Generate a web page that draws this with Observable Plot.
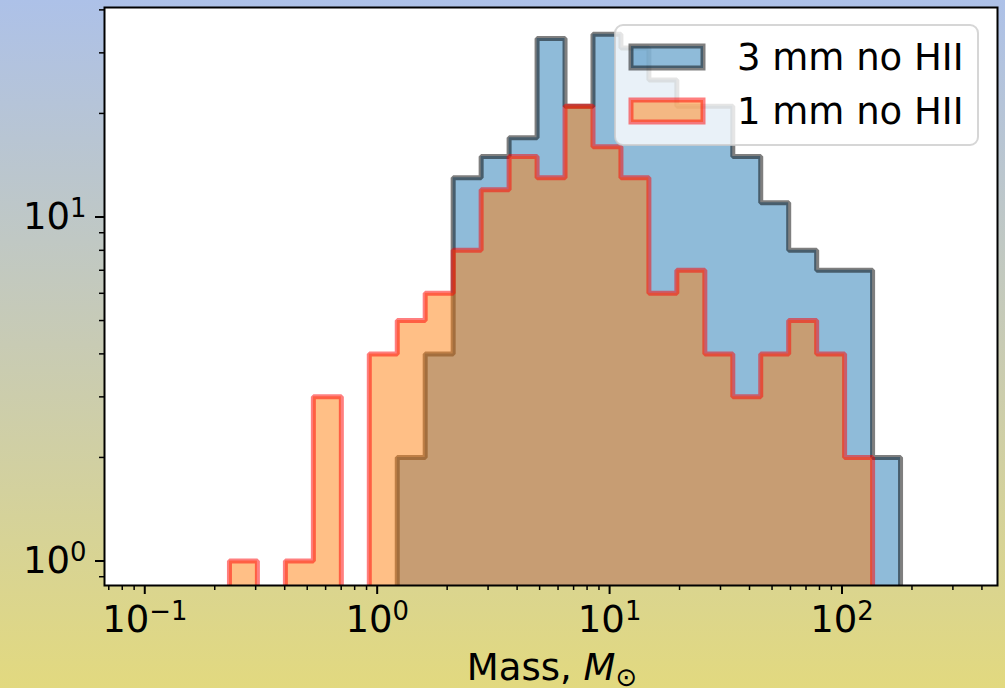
<!DOCTYPE html>
<html><head><meta charset="utf-8">
<script src="https://cdn.jsdelivr.net/npm/d3@7"></script>
<script src="https://cdn.jsdelivr.net/npm/@observablehq/plot@0.6"></script>
<style>
html,body{margin:0;padding:0;background:#fff;}
#fig{position:relative;width:1005px;height:688px;background:linear-gradient(to bottom,#adc1e8 0%,#c8cbb4 50%,#e2d97f 100%);overflow:hidden;}
#fig svg{display:block;}
</style></head><body><div id="fig"></div>
<script>
// Histogram bin edges (solar masses), shared by both series
const binEdges = [0.2314, 0.3052, 0.4028, 0.5314, 0.7011, 0.9248, 1.220, 1.609, 2.123, 2.801,
  3.695, 4.875, 6.431, 8.483, 11.19, 14.76, 19.47, 25.69, 33.89, 44.70, 58.97, 77.80, 102.6, 135.4, 178.6];
// Counts per bin
const counts3mm = [0, 0, 0, 0, 0, 0, 2, 4, 13, 15, 17, 33, 21, 34, 31, 25, 21, 21, 15, 11, 8, 7, 7, 2];
const counts1mm = [1, 0, 1, 3, 0, 4, 5, 6, 8, 12, 15, 13, 21, 16, 13, 6, 7, 4, 3, 4, 5, 4, 2, 0];
const seriesNames = ["3 mm no HII", "1 mm no HII"];
const xMajorTicks = [0.1, 1, 10, 100];
const yMajorTicks = [1, 10];
const xLabelText = "Mass, ";

const FLOOR = 1e-3;
const xDomain = [0.0671, 466.7];
const yDomain = [0.8487, 40.64];

function stepPoints(counts) {
  const pts = [{x: binEdges[0], y: FLOOR}];
  counts.forEach((c, i) => pts.push({x: binEdges[i], y: c > 0 ? c : FLOOR}));
  pts.push({x: binEdges[counts.length], y: FLOOR});
  return pts;
}
const s3 = stepPoints(counts3mm);
const s1 = stepPoints(counts1mm);

function minorTicks(domain) {
  const out = [];
  for (let e = -3; e <= 3; e++) {
    const d = Math.pow(10, e);
    for (let k = 2; k <= 9; k++) {
      const v = d * k;
      if (v >= domain[0] && v <= domain[1]) out.push(v);
    }
  }
  return out;
}
const fmt = d => { const e = Math.round(Math.log10(d)); return "10^" + (e < 0 ? "\u2212" + (-e) : e); };

const plot = Plot.plot({
  width: 1005, height: 688,
  marginLeft: 104, marginRight: 8, marginTop: 7, marginBottom: 103,
  style: {background: "transparent", fontFamily: "DejaVu Sans", fontSize: "37px", color: "black"},
  x: {type: "log", domain: xDomain, label: null},
  y: {type: "log", domain: yDomain, label: null},
  marks: [
    Plot.frame({fill: "white", stroke: null}),
    Plot.areaY(s3, {x: "x", y1: FLOOR, y2: "y", curve: "step-after", fill: "#1f77b4", fillOpacity: 0.5, clip: true}),
    Plot.line(s3, {x: "x", y: "y", curve: "step-after", stroke: "black", strokeOpacity: 0.5, strokeWidth: 5, strokeLinejoin: "miter", clip: true}),
    Plot.areaY(s1, {x: "x", y1: FLOOR, y2: "y", curve: "step-after", fill: "#ff7f0e", fillOpacity: 0.5, clip: true}),
    Plot.line(s1, {x: "x", y: "y", curve: "step-after", stroke: "red", strokeOpacity: 0.5, strokeWidth: 5, strokeLinejoin: "miter", clip: true}),
    Plot.axisX(minorTicks(xDomain), {tickSize: 5, strokeWidth: 1.5, tickFormat: () => "", label: null}),
    Plot.axisX(xMajorTicks, {tickSize: 9, tickPadding: 11, strokeWidth: 2, tickFormat: fmt, label: null}),
    Plot.axisY(minorTicks(yDomain), {tickSize: 5, strokeWidth: 1.5, tickFormat: () => "", label: null}),
    Plot.axisY(yMajorTicks, {tickSize: 9, tickPadding: 9, strokeWidth: 2, tickFormat: fmt, label: null}),
    Plot.frame({stroke: "black", strokeWidth: 2})
  ]
});
document.getElementById("fig").appendChild(plot);

const svg = d3.select(plot);
svg.selectAll("text").each(function () {
  const t = this.textContent;
  if (t.startsWith("10^")) {
    const el = d3.select(this);
    el.text(null);
    el.append("tspan").text("10");
    el.append("tspan").attr("dy", "-0.45em").attr("font-size", "0.7em").text(t.slice(3));
  }
});

// x-axis label
const xl = svg.append("text").attr("x", 552).attr("y", 680).attr("text-anchor", "middle")
  .attr("font-family", "DejaVu Sans").attr("font-size", 37).attr("fill", "black");
xl.append("tspan").text(xLabelText);
xl.append("tspan").attr("font-style", "italic").text("M");
xl.append("tspan").attr("dy", "0.22em").attr("font-size", "0.7em").text("\u2299");

// legend
const lg = svg.append("g");
lg.append("rect").attr("x", 615).attr("y", 25).attr("width", 363).attr("height", 120).attr("rx", 8)
  .attr("fill", "white").attr("fill-opacity", 0.8).attr("stroke", "#cccccc").attr("stroke-opacity", 0.8).attr("stroke-width", 2);
const handles = [
  {fill: "#1f77b4", stroke: "black", y: 46},
  {fill: "#ff7f0e", stroke: "red", y: 100}
];
handles.forEach((h, i) => {
  lg.append("rect").attr("x", 631).attr("y", h.y).attr("width", 72).attr("height", 22)
    .attr("fill", h.fill).attr("fill-opacity", 0.5).attr("stroke", h.stroke).attr("stroke-opacity", 0.5).attr("stroke-width", 5);
  lg.append("text").attr("x", 737).attr("y", h.y + 24).attr("text-anchor", "start").attr("font-family", "DejaVu Sans").attr("font-size", 37)
    .attr("fill", "black").text(seriesNames[i]);
});
</script>
</body></html>
